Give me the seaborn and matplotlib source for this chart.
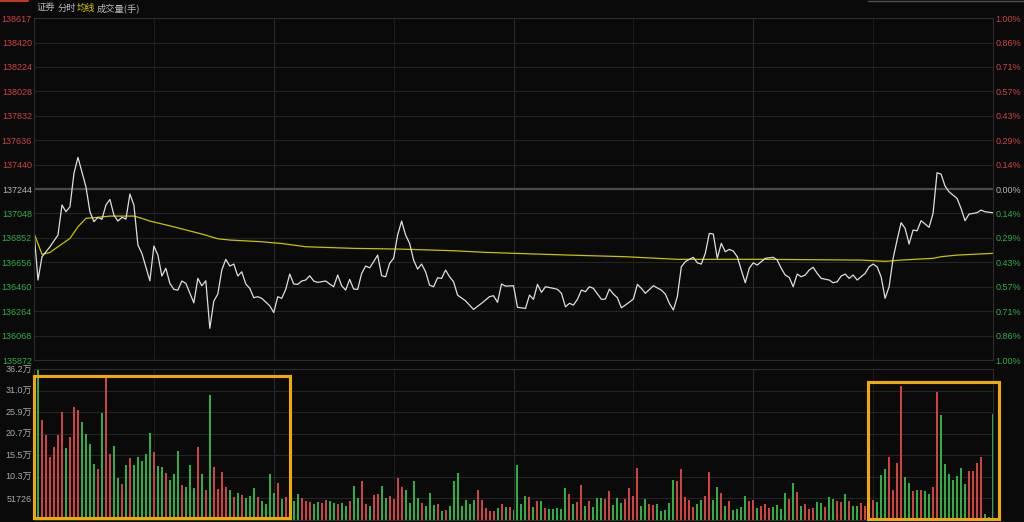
import matplotlib
matplotlib.use("Agg")
import matplotlib.pyplot as plt
from matplotlib.patches import Rectangle
from matplotlib.lines import Line2D
import seaborn as sns

# ---- data ----
prev_close = 137244
price_ticks = [138617, 138420, 138224, 138028, 137832, 137636, 137440, 137244,
               137048, 136852, 136656, 136460, 136264, 136068, 135872]
pct_labels = ["1.00%", "0.86%", "0.71%", "0.57%", "0.43%", "0.29%", "0.14%", "0.00%",
              "0.14%", "0.29%", "0.43%", "0.57%", "0.71%", "0.86%", "1.00%"]
vol_ticks = [51726, 103452, 155178, 206904, 258630, 310356, 362082]
vol_labels = ["51726", "10.3万", "15.5万", "20.7万", "25.9万", "31.0万", "36.2万"]

# minute-line (minutes since open) and price
price_min = [0, 1, 2, 4, 6, 7, 8, 9, 10, 11, 13, 14, 15, 16, 17, 18, 19, 20, 21, 22,
             23, 24, 25, 26, 27, 29, 30, 31, 32, 33, 34, 35, 36, 37, 38, 40, 41, 42, 43, 44,
             45, 46, 47, 48, 49, 50, 51, 52, 53, 54, 55, 56, 57, 59, 60, 61, 62, 63, 64, 65,
             66, 67, 68, 69, 70, 71, 73, 74, 75, 76, 77, 78, 79, 80, 81, 82, 83, 84, 85, 86,
             87, 88, 89, 90, 91, 92, 93, 94, 95, 96, 97, 98, 99, 100, 101, 102, 103, 104, 105, 106,
             108, 110, 112, 114, 115, 116, 117, 118, 120, 121, 123, 124, 125, 126, 127, 128, 130, 131, 132, 133,
             134, 135, 136, 137, 138, 139, 140, 142, 143, 144, 145, 146, 147, 148, 150, 151, 152, 153, 155, 157,
             158, 159, 160, 161, 162, 163, 164, 165, 166, 167, 168, 169, 170, 171, 172, 173, 174, 175, 176, 177,
             178, 179, 180, 181, 182, 183, 185, 186, 187, 188, 189, 190, 191, 192, 193, 194, 195, 196, 197, 199,
             200, 201, 202, 203, 204, 205, 206, 208, 209, 210, 211, 212, 213, 214, 215, 216, 217, 218, 219, 220,
             221, 222, 223, 224, 225, 226, 227, 228, 229, 231, 232, 233, 234, 236, 237, 238, 240]
price = [136901, 136514, 136701, 136781, 136875, 137116, 137062, 137102, 137370, 137498,
         137262, 137062, 136982, 137017, 137001, 137116, 137161, 137035, 136987, 137017,
         137003, 137204, 137116, 136795, 136728, 136508, 136787, 136714, 136546, 136608,
         136487, 136439, 136433, 136506, 136487, 136331, 136527, 136468, 136508, 136126,
         136345, 136401, 136594, 136680, 136626, 136642, 136546, 136580, 136482, 136447,
         136372, 136380, 136367, 136307, 136253, 136380, 136367, 136439, 136562, 136482,
         136479, 136506, 136514, 136548, 136506, 136495, 136506, 136482, 136460, 136554,
         136468, 136433, 136519, 136441, 136439, 136567, 136626, 136612, 136661, 136714,
         136548, 136540, 136648, 136688, 136875, 136987, 136875, 136808, 136674, 136602,
         136642, 136580, 136473, 136460, 136532, 136527, 136594, 136540, 136500, 136393,
         136347, 136278, 136327, 136380, 136388, 136335, 136482, 136465, 136468, 136295,
         136286, 136393, 136359, 136479, 136415, 136460, 136447, 136439, 136407, 136299,
         136327, 136313, 136359, 136433, 136420, 136460, 136447, 136359, 136361, 136441,
         136401, 136372, 136291, 136313, 136361, 136479, 136447, 136407, 136468, 136433,
         136401, 136327, 136273, 136380, 136620, 136661, 136680, 136696, 136652, 136642,
         136728, 136888, 136883, 136688, 136808, 136741, 136760, 136746, 136701, 136594,
         136492, 136608, 136652, 136634, 136661, 136688, 136696, 136674, 136608, 136554,
         136535, 136460, 136562, 136540, 136554, 136594, 136616, 136567, 136527, 136514,
         136492, 136500, 136546, 136562, 136527, 136554, 136514, 136567, 136620, 136642,
         136620, 136540, 136367, 136460, 136688, 136835, 136974, 136929, 136803, 136915,
         136909, 136990, 136963, 136937, 137049, 137375, 137364, 137268, 137222, 137169,
         137089, 136990, 137043, 137054, 137075, 137062, 137054]

# average price line
avg_min = [0, 2, 4, 6, 9, 11, 13, 16, 19, 25, 27, 29, 34, 42, 46, 49, 57, 62, 68, 80,
           92, 105, 113, 126, 134, 148, 161, 182, 207, 213, 217, 225, 227, 231, 240]
avg_price = [136890, 136720, 136735, 136781, 136848, 136941, 137009, 137017, 137027, 137027,
             137009, 136987, 136949, 136883, 136845, 136835, 136821, 136807, 136781, 136768,
             136762, 136749, 136736, 136722, 136714, 136701, 136680, 136680, 136674, 136664,
             136674, 136688, 136701, 136714, 136728]

# volume per minute (1..240), in shares
volume = [362000, 239800, 203800, 150300, 175000, 203800, 259700, 173400, 199000, 271000,
          263000, 235000, 205500, 181500, 134300, 122300, 255900, 340500, 157500, 178200,
          100000, 86300, 131900, 148700, 131900, 151100, 141500, 158300, 208600, 163100,
          129500, 126400, 113400, 95900, 111000, 166200, 83200, 79900, 131200, 76000,
          174300, 110300, 71900, 299000, 127100, 75100, 115800, 79900, 71900, 55200,
          64000, 60700, 52800, 57600, 77500, 55900, 44800, 38400, 110300, 65500,
          88700, 51100, 55900, 50000, 45600, 62300, 52800, 45600, 43200, 37600,
          43200, 40000, 48000, 45600, 40000, 38400, 41600, 33600, 45600, 81500,
          52800, 93500, 38400, 33600, 60000, 62300, 81500, 52000, 57600, 51100,
          99900, 79900, 71900, 41600, 93500, 52000, 40000, 33600, 65500, 36000,
          38400, 21600, 24000, 33600, 93500, 111900, 32800, 48000, 37600, 48000,
          71900, 48000, 28800, 21600, 21600, 28000, 38400, 31200, 31200, 24800,
          131100, 38400, 57600, 54400, 31200, 45600, 45600, 28800, 26400, 25600,
          28000, 26400, 76700, 62300, 38400, 43200, 83100, 33600, 45600, 31200,
          52800, 52800, 50400, 69500, 36000, 52800, 40000, 50400, 75900, 57600,
          124700, 33600, 50400, 38400, 36000, 38400, 21600, 24000, 40800, 95100,
          93500, 122300, 55200, 48000, 31200, 38400, 48000, 57600, 115100, 48000,
          79100, 64700, 33600, 45600, 24000, 25600, 31200, 57600, 45600, 48000,
          28800, 33600, 37600, 28800, 31200, 36000, 26400, 64700, 50400, 88700,
          67900, 33600, 38400, 26400, 28800, 43200, 41600, 31200, 55200, 50400,
          44800, 43200, 62300, 44800, 33600, 33600, 40800, 33600, 48000, 48000,
          44000, 107900, 122300, 150300, 71900, 135900, 322100, 103900, 87900, 69500,
          71900, 71900, 69500, 62300, 79900, 306100, 251800, 133500, 109500, 95900,
          106300, 123900, 85500, 117500, 117500, 135900, 150300, 13600, 8000, 254200]
# r = up minute, g = down minute
vol_dir = ("grrrrrrgrr" "rggggrgrrg" "grgrgggggr" "ggrgggrggg" "rgrgrrrrgr" "grgggrgggg"
           "rgrgggrrrg" "grrggrggrg" "grrgrrggrr" "rrggggrggg" "rgrggggggg" "rrrrrgrgrg"
           "gggrgrgrgg" "gggrgrrgrg" "ggrrgggrrr" "rggrrggggg" "rrrrrggrrg" "grgrggggrr"
           "grrrggggrg" "rgrrrggrgg" "rrgrggrrrr" "gggrrrrggr" "grggrrgggg" "gggrrrrggg")
vol_min = list(range(1, 241))
assert len(volume) == len(vol_dir) == len(vol_min)

# highlighted stretches: (start minute, end minute, low volume, high volume)
boxes = [(0, 64, 4800, 345000), (208.7, 241.5, 2400, 331000)]

# ---- style ----
bg = "#0a0a0a"
red = "#d04343"
green = "#2fae45"
grid_c = "#242424"
sns.set_theme(style="dark", rc={"axes.facecolor": bg, "figure.facecolor": bg,
                                "savefig.facecolor": bg, "axes.edgecolor": "#2c2c2c"})
plt.rcParams["font.family"] = ["Liberation Sans", "Noto Sans CJK SC"]

W, H = 1024, 522
fig = plt.figure(figsize=(W / 100, H / 100), dpi=100)
ax1 = fig.add_axes([34 / W, (H - 360) / H, 959 / W, 342 / H])
ax2 = fig.add_axes([34 / W, (H - 520) / H, 959 / W, 151 / H])

for ax in (ax1, ax2):
    ax.set_facecolor(bg)
    ax.set_xlim(0, 240)
    ax.set_xticks([])
    for sp in ax.spines.values():
        sp.set_color("#2c2c2c")
        sp.set_linewidth(0.8)
    for m in range(30, 240, 30):
        ax.axvline(m, color="#2a2a2a" if m % 60 == 0 else "#1c1c1c", lw=0.8, zorder=0)

# ---- price panel ----
ax1.set_ylim(price_ticks[-1], price_ticks[0])
for t in price_ticks:
    if t == prev_close:
        ax1.axhline(t, color="#4a4a4a", lw=1.6, zorder=0)
    else:
        ax1.axhline(t, color=grid_c, lw=0.8, zorder=0)

sns.lineplot(x=avg_min, y=avg_price, ax=ax1, color="#c8c200", lw=0.9,
             estimator=None, sort=False, zorder=3)
sns.lineplot(x=price_min, y=price, ax=ax1, color="#dedede", lw=0.9,
             estimator=None, sort=False, zorder=4)


def tick_col(v):
    if v > prev_close:
        return red
    if v < prev_close:
        return green
    return "#b4b4b4"


ax1.set_yticks(price_ticks)
ax1.set_yticklabels([str(t) for t in price_ticks], fontsize=6.5)
for lab, t in zip(ax1.get_yticklabels(), price_ticks):
    lab.set_color(tick_col(t))
ax1.tick_params(axis="y", length=0, pad=1.5)
ax1.set_xlabel("")
ax1.set_ylabel("")

axr = ax1.twinx()
axr.set_ylim(ax1.get_ylim())
axr.set_yticks(price_ticks)
axr.set_yticklabels(pct_labels, fontsize=6.5)
for lab, t in zip(axr.get_yticklabels(), price_ticks):
    lab.set_color(tick_col(t))
axr.tick_params(axis="y", length=0, pad=2)
axr.grid(False)
for sp in axr.spines.values():
    sp.set_color("#2c2c2c")
    sp.set_linewidth(0.8)

# ---- volume panel ----
ax2.set_ylim(0, vol_ticks[-1])
for t in vol_ticks:
    ax2.axhline(t, color=grid_c, lw=0.8, zorder=0)
bar_cols = [red if c == "r" else green for c in vol_dir]
ax2.bar(vol_min, volume, width=0.5, color=bar_cols, linewidth=0,
        antialiased=False, zorder=2)
ax2.set_yticks(vol_ticks)
ax2.set_yticklabels(vol_labels, fontsize=6.5, color="#a8a8a8")
ax2.tick_params(axis="y", length=0, pad=1.5)

for x0, x1, y0, y1 in boxes:
    ax2.add_patch(Rectangle((x0, y0), x1 - x0, y1 - y0, fill=False,
                            edgecolor="#f2a900", lw=2.2, clip_on=False, zorder=5))

# ---- header ----
hy = 1 - 8.5 / H
for txt, x, c in [("证券", 37, "#b8b8b8"), ("分时", 58, "#b8b8b8"),
                  ("均线", 77, "#d8cc00"), ("成交量(手)", 97, "#b8b8b8")]:
    fig.text(x / W, hy, txt, color=c, fontsize=6.7, va="center", ha="left",
             family=["Noto Sans CJK SC", "DejaVu Sans"])
fig.add_artist(Line2D([0, 28 / W], [1 - 1 / H, 1 - 1 / H], color="#b83c1c", lw=1.5))
fig.add_artist(Line2D([868 / W, 1], [1 - 0.5 / H, 1 - 0.5 / H], color="#505050", lw=1))

fig.savefig("out.png", dpi=100, facecolor=bg)
